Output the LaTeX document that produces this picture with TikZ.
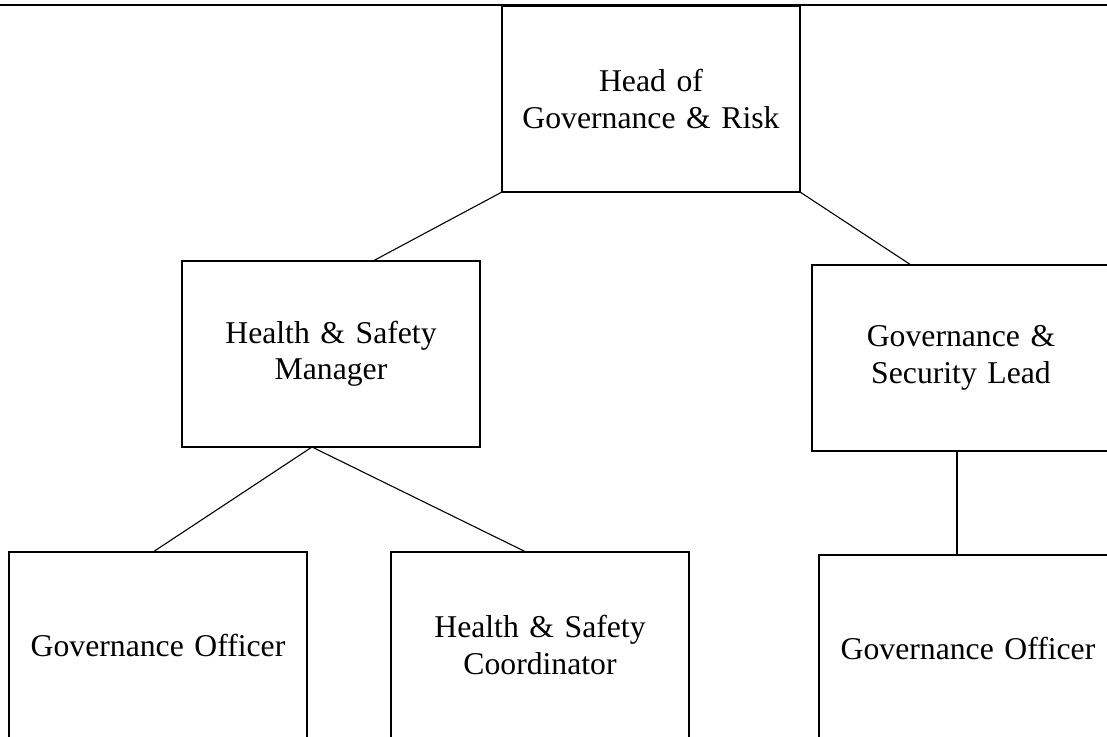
\documentclass[tikz,border=0pt]{standalone}
\usepackage{fontspec}
\setmainfont{Liberation Serif}
\usetikzlibrary{positioning}

\begin{document}
\begin{tikzpicture}[
        x=1pt, y=1pt,
        node distance=70pt,
        role/.style={rectangle, draw, line width=2.4pt, outer sep=0pt, inner sep=0pt, text width=280pt, align=center, minimum width=298pt, minimum height=186pt, font={\fontsize{31.7}{36.5}\selectfont}},
        link/.style={line width=1.1pt}
    ]
        \clip (0,0) rectangle (1107,-736);
        \fill [white] (0,0) rectangle (1107,-736);

        \coordinate (rule west) at (0,-5);
        \coordinate (rule east) at (1107,-5);
        \draw [line width=2.4pt] (rule west) -- (rule east);

        \node [role] (head) at (651,-99) {Head of\\Governance \& Risk};
        \node [role, below left=69pt and 22pt of head] (hsmanager) {Health \& Safety\\Manager};
        \node [role, below right=73pt and 12pt of head] (seclead) {Governance \&\\Security Lead};

        \node [role, below=105pt of hsmanager, xshift=-173pt] (govofficer) {Governance Officer};
        \node [role, below=105pt of hsmanager, xshift=209pt] (hscoord) {Health \& Safety\\Coordinator};
        \node [role, below=104pt of seclead, xshift=7pt] (secofficer) {Governance Officer};

        \draw [link] (head.south west) -- ([xshift=42pt]hsmanager.north);
        \draw [link] (head.south east) -- ([xshift=-50pt]seclead.north);
        \draw [link] ([xshift=-19pt]hsmanager.south) -- ([xshift=-5pt]govofficer.north);
        \draw [link] ([xshift=-19pt]hsmanager.south) -- ([xshift=-14pt]hscoord.north);
        \draw [link] ([xshift=-4pt]seclead.south) -- ([xshift=-11pt]secofficer.north);

    \end{tikzpicture}
\end{document}
